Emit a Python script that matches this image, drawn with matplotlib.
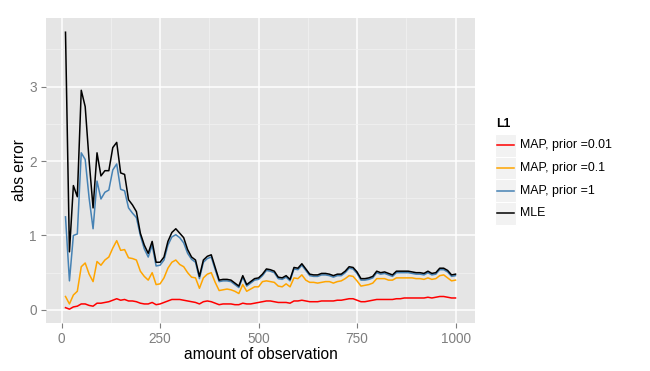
import numpy as np
import matplotlib
matplotlib.use("Agg")
import matplotlib.pyplot as plt
from matplotlib.lines import Line2D
from matplotlib.patches import Rectangle

plt.rcParams['font.family'] = ['Liberation Sans', 'DejaVu Sans']

observations = list(range(10, 1001, 10))

mle = [3.73, 0.78, 1.67, 1.52, 2.95, 2.73, 2.00, 1.37, 2.11, 1.80,
       1.87, 1.87, 2.18, 2.25, 1.84, 1.82, 1.48, 1.41, 1.32, 1.03,
       0.87, 0.76, 0.92, 0.64, 0.64, 0.71, 0.92, 1.04, 1.09, 1.03,
       0.97, 0.81, 0.71, 0.67, 0.45, 0.67, 0.72, 0.74, 0.57, 0.40,
       0.41, 0.41, 0.40, 0.36, 0.32, 0.46, 0.34, 0.38, 0.42, 0.43,
       0.48, 0.55, 0.54, 0.52, 0.44, 0.43, 0.46, 0.41, 0.57, 0.56,
       0.62, 0.55, 0.48, 0.47, 0.47, 0.49, 0.49, 0.48, 0.46, 0.48,
       0.48, 0.52, 0.58, 0.57, 0.51, 0.42, 0.42, 0.43, 0.45, 0.52,
       0.50, 0.51, 0.49, 0.47, 0.52, 0.52, 0.52, 0.52, 0.51, 0.50,
       0.50, 0.49, 0.52, 0.49, 0.50, 0.56, 0.56, 0.53, 0.47, 0.48]

map_prior_1 = [1.25, 0.39, 1.00, 1.02, 2.11, 2.02, 1.50, 1.09, 1.73, 1.49,
               1.58, 1.61, 1.88, 1.96, 1.62, 1.60, 1.37, 1.30, 1.24, 1.00,
               0.82, 0.71, 0.87, 0.59, 0.60, 0.67, 0.87, 0.98, 1.01, 0.97,
               0.90, 0.76, 0.68, 0.64, 0.42, 0.64, 0.69, 0.71, 0.54, 0.38,
               0.39, 0.39, 0.38, 0.34, 0.30, 0.44, 0.32, 0.36, 0.40, 0.41,
               0.46, 0.53, 0.52, 0.50, 0.42, 0.41, 0.44, 0.39, 0.55, 0.54,
               0.60, 0.53, 0.46, 0.45, 0.45, 0.47, 0.47, 0.46, 0.44, 0.46,
               0.46, 0.50, 0.56, 0.55, 0.49, 0.40, 0.40, 0.41, 0.43, 0.50,
               0.48, 0.49, 0.47, 0.45, 0.50, 0.50, 0.50, 0.50, 0.49, 0.48,
               0.48, 0.47, 0.50, 0.47, 0.48, 0.54, 0.54, 0.51, 0.45, 0.46]

map_prior_01 = [0.18, 0.08, 0.20, 0.25, 0.58, 0.63, 0.48, 0.38, 0.65, 0.60,
                0.67, 0.71, 0.83, 0.93, 0.80, 0.81, 0.70, 0.69, 0.67, 0.52,
                0.45, 0.40, 0.50, 0.34, 0.35, 0.43, 0.56, 0.64, 0.67, 0.61,
                0.58, 0.50, 0.44, 0.43, 0.29, 0.43, 0.48, 0.50, 0.37, 0.26,
                0.27, 0.28, 0.27, 0.25, 0.22, 0.34, 0.25, 0.28, 0.31, 0.31,
                0.38, 0.39, 0.38, 0.37, 0.32, 0.31, 0.35, 0.31, 0.43, 0.42,
                0.47, 0.40, 0.37, 0.37, 0.36, 0.37, 0.38, 0.38, 0.36, 0.38,
                0.39, 0.42, 0.46, 0.45, 0.39, 0.32, 0.33, 0.34, 0.36, 0.42,
                0.42, 0.42, 0.40, 0.40, 0.43, 0.43, 0.43, 0.43, 0.43, 0.42,
                0.42, 0.41, 0.43, 0.41, 0.42, 0.46, 0.47, 0.43, 0.39, 0.40]

map_prior_001 = [0.03, 0.01, 0.04, 0.05, 0.08, 0.08, 0.06, 0.05, 0.09, 0.09,
                 0.10, 0.11, 0.13, 0.15, 0.13, 0.14, 0.12, 0.12, 0.11, 0.09,
                 0.08, 0.08, 0.10, 0.07, 0.08, 0.10, 0.12, 0.14, 0.14, 0.14,
                 0.13, 0.12, 0.11, 0.10, 0.08, 0.11, 0.12, 0.11, 0.09, 0.07,
                 0.08, 0.08, 0.08, 0.07, 0.07, 0.09, 0.08, 0.08, 0.09, 0.10,
                 0.11, 0.12, 0.12, 0.11, 0.10, 0.10, 0.10, 0.09, 0.12, 0.12,
                 0.13, 0.12, 0.11, 0.11, 0.11, 0.12, 0.12, 0.12, 0.12, 0.13,
                 0.13, 0.14, 0.15, 0.15, 0.13, 0.11, 0.11, 0.12, 0.13, 0.14,
                 0.14, 0.14, 0.14, 0.14, 0.15, 0.15, 0.16, 0.16, 0.16, 0.16,
                 0.16, 0.16, 0.17, 0.16, 0.17, 0.18, 0.18, 0.17, 0.16, 0.16]

series_names = ["MAP, prior =0.01", "MAP, prior =0.1", "MAP, prior =1", "MLE"]
series_values = [map_prior_001, map_prior_01, map_prior_1, mle]
series_colors = ["#FF0000", "#FFA500", "#4682B4", "#000000"]

x_ticks = [0, 250, 500, 750, 1000]
y_ticks = [0, 1, 2, 3]

W, H = 650, 371
fig = plt.figure(figsize=(W / 100, H / 100), dpi=100)
ax = fig.add_axes([46 / W, 1 - 323 / H, (475 - 46) / W, (323 - 18) / H])
ax.set_facecolor("#E5E5E5")
for s in ax.spines.values():
    s.set_visible(False)

for vals, c in zip(series_values, series_colors):
    ax.plot(observations, vals, color=c, lw=1.1, zorder=3)

allv = np.concatenate([np.array(v) for v in series_values])
ymin, ymax = allv.min(), allv.max()
yr = ymax - ymin
ax.set_ylim(ymin - 0.05 * yr, ymax + 0.05 * yr + 0.005)
xr = max(observations) - min(observations)
ax.set_xlim(min(observations) - 0.05 * xr, max(observations) + 0.05 * xr)

ax.set_xticks(x_ticks)
ax.set_yticks(y_ticks)
ax.set_xticks([125, 375, 625, 875], minor=True)
ax.set_yticks([0.5, 1.5, 2.5, 3.5], minor=True)
ax.grid(which="major", color="white", lw=1.1, zorder=1)
ax.grid(which="minor", color="#F2F2F2", lw=0.5, zorder=1)
ax.set_axisbelow(True)
ax.tick_params(which="major", length=3.5, width=0.8, color="#7F7F7F",
               labelcolor="#7F7F7F", labelsize=9.8, pad=3)
ax.tick_params(which="minor", length=0)

ax.set_xlabel("amount of observation", fontsize=11.2, labelpad=1)
ax.set_ylabel("abs error", fontsize=11.2, labelpad=2)

# legend (ggplot-style)
fig.text(496 / W, 1 - 124 / H, "L1", fontsize=8.8, fontweight="bold",
         va="center", ha="left")
row_h = 22.7
top0 = 134
for i, (name, c) in enumerate(zip(series_names, series_colors)):
    y0 = top0 + i * row_h
    fig.patches.append(Rectangle((495 / W, 1 - (y0 + row_h) / H), 21 / W, row_h / H,
                                 transform=fig.transFigure, facecolor="#F2F2F2",
                                 edgecolor="white", lw=0.8))
    yc = y0 + row_h / 2
    fig.lines.append(Line2D([497 / W, 514 / W], [1 - yc / H, 1 - yc / H],
                            transform=fig.transFigure, color=c, lw=1.1))
    fig.text(520 / W, 1 - yc / H, name, fontsize=8.9, va="center", ha="left")

fig.savefig("out.png", dpi=100)
